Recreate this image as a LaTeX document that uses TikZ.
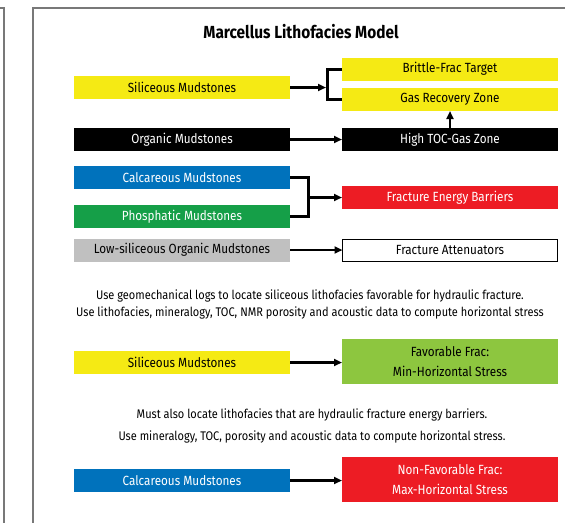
\documentclass[tikz,border=0pt]{standalone}
\usepackage{fontspec}
\setmainfont[FakeStretch=0.88]{Fira Sans}
\usetikzlibrary{arrows.meta}
\definecolor{cyel}{RGB}{245,234,20}
\definecolor{cblue}{RGB}{0,114,188}
\definecolor{cgreen}{RGB}{21,159,72}
\definecolor{cred}{RGB}{237,28,36}
\definecolor{clgreen}{RGB}{141,198,63}
\definecolor{cgray}{RGB}{192,192,192}
\definecolor{cframe}{RGB}{120,120,120}
\tikzset{
  box/.style={inner sep=0pt, outer sep=0pt, minimum width=216pt, minimum height=23pt, font=\fontsize{13.3}{15}\selectfont, align=center},
  arr/.style={line width=2.3pt, -{Triangle[length=8pt,width=7pt]}},
  brk/.style={line width=3pt, line join=miter},
  note/.style={font=\fontsize{12.5}{17.5}\selectfont, align=center, inner sep=0pt},
  frame/.style={draw=cframe, line width=1.5pt}
}
\begin{document}
\begin{tikzpicture}[x=1pt,y=-1pt]
\useasboundingbox (0,0) rectangle (565,523);
% frames
\draw[frame] (0,8) -- (4,8) -- (4,523);
\draw[frame] (565,8) -- (33,8) -- (33,523);
% title
\node[font=\fontsize{17.5}{20}\selectfont\bfseries, inner sep=0pt] (title) at (301,32) {Marcellus Lithofacies Model};
% rows
\node[box, fill=cyel] (sil1) at (182,87.5) {Siliceous Mudstones};
\node[box, fill=cyel] (brittle) at (450,69) {Brittle-Frac Target};
\node[box, fill=cyel] (gas) at (450,99.5) {Gas Recovery Zone};
\node[box, fill=black, text=white] (org) at (182,139.5) {Organic Mudstones};
\node[box, fill=black, text=white] (hightoc) at (450,139.5) {High TOC-Gas Zone};
\node[box, fill=cblue, text=white] (calc1) at (182,177.5) {Calcareous Mudstones};
\node[box, fill=cgreen, text=white] (phos) at (182,216.5) {Phosphatic Mudstones};
\node[box, fill=cred, text=white] (feb) at (450,197.5) {Fracture Energy Barriers};
\node[box, fill=cgray] (lowsil) at (182,250) {Low-siliceous Organic Mudstones};
\node[box, draw=black, line width=0.9pt, minimum width=215pt, minimum height=22pt] (fatt) at (450,250) {Fracture Attenuators};
\node[note] (note1) at (310,304.5) {Use geomechanical logs to locate siliceous lithofacies favorable for hydraulic fracture.\\Use lithofacies, mineralogy, TOC, NMR porosity and acoustic data to compute horizontal stress};
\node[box, fill=cyel] (sil2) at (182,362.5) {Siliceous Mudstones};
\node[box, fill=clgreen, minimum height=45pt, font=\fontsize{13.3}{19.5}\selectfont] (fav) at (450,361.5) {Favorable Frac:\\Min-Horizontal Stress};
\node[note, font=\fontsize{12.5}{22}\selectfont] (note2) at (312,425.5) {Must also locate lithofacies that are hydraulic fracture energy barriers.\\Use mineralogy, TOC, porosity and acoustic data to compute horizontal stress.};
\node[box, fill=cblue, text=white] (calc3) at (182,480.5) {Calcareous Mudstones};
\node[box, fill=cred, text=white, minimum height=45pt, font=\fontsize{13.3}{20}\selectfont] (nonfav) at (450,479.5) {Non-Favorable Frac:\\Max-Horizontal Stress};
% connectors
\coordinate (b1) at (327,87.5);
\draw[brk] (brittle.west) -| (b1) |- (gas.west);
\draw[arr] (sil1.east) -- ([xshift=-1pt]b1);
\draw[arr] (org.east) -- (hightoc.west);
\draw[arr] (hightoc.north) -- (gas.south);
\coordinate (b2) at (308,197.5);
\draw[brk] (calc1.east) -| (b2) |- (phos.east);
\draw[arr] (b2) -- (feb.west);
\draw[arr] (lowsil.east) -- (fatt.west);
\draw[arr] (sil2.east) -- (sil2.east -| fav.west);
\draw[arr] (calc3.east) -- (calc3.east -| nonfav.west);
\end{tikzpicture}
\end{document}
